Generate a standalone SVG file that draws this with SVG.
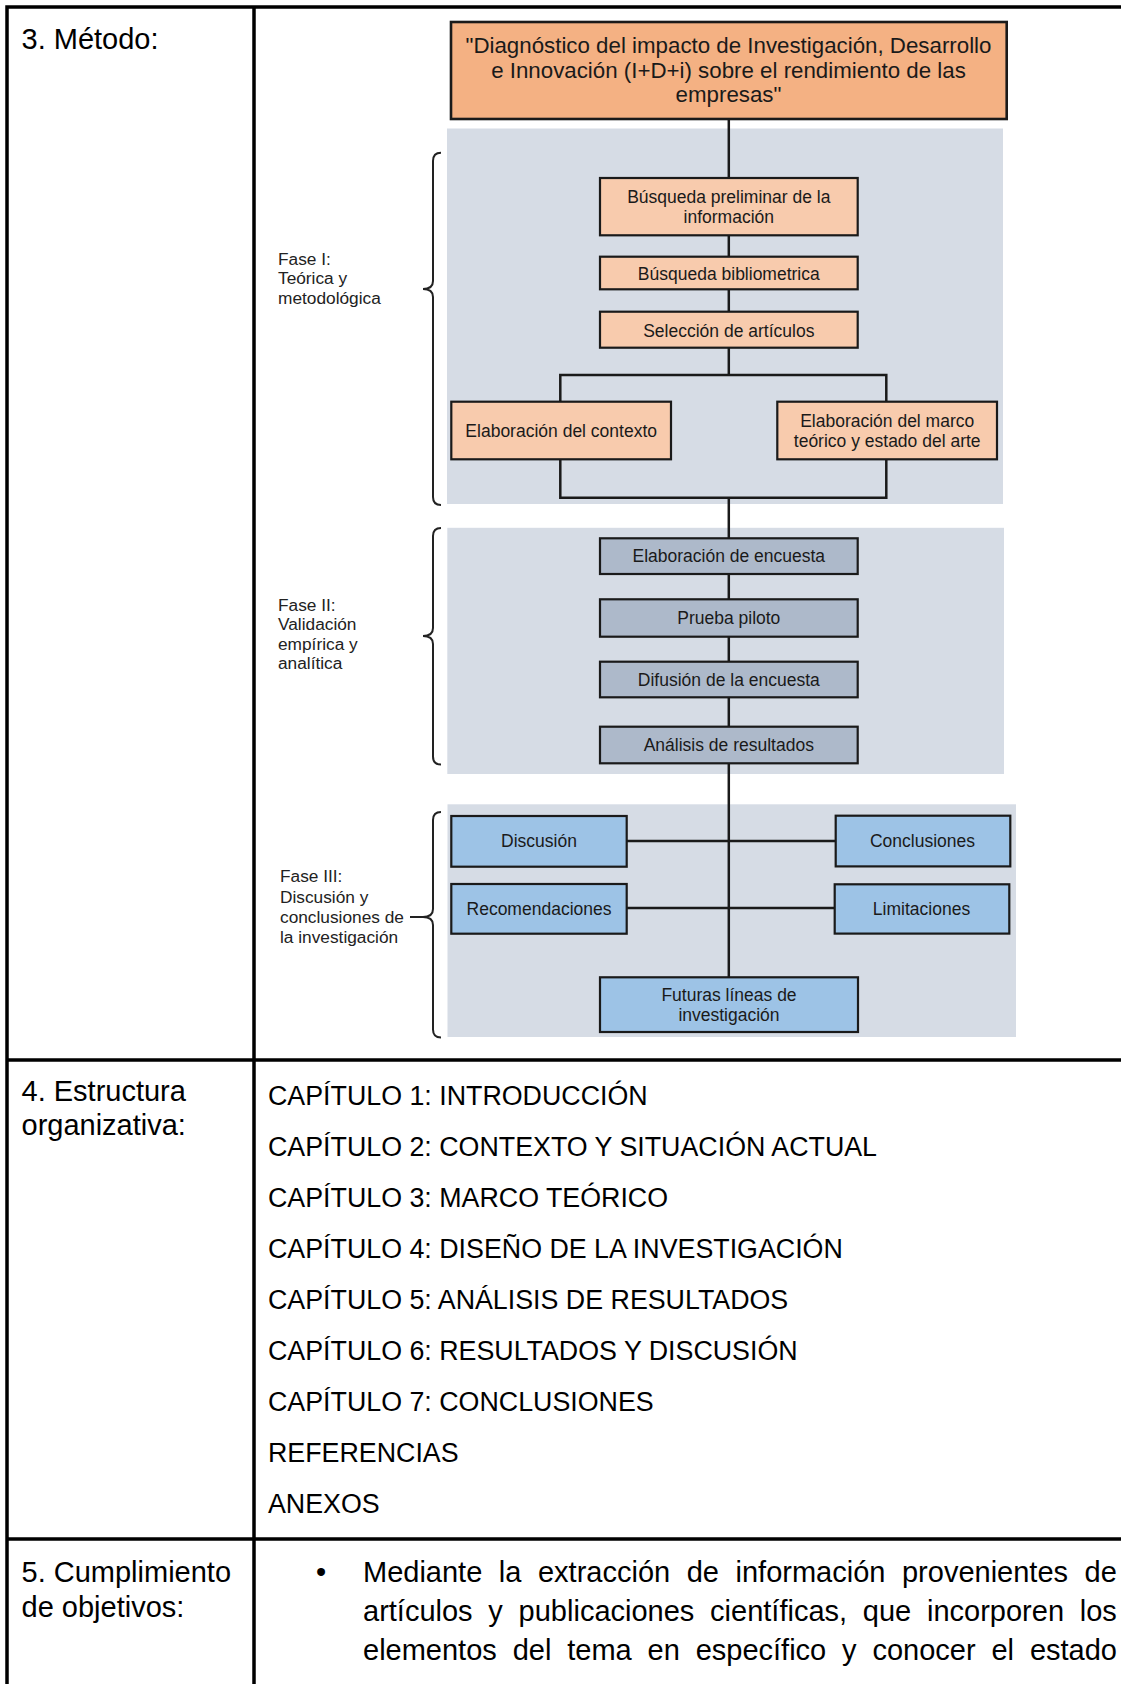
<svg xmlns="http://www.w3.org/2000/svg" width="1121" height="1684" viewBox="0 0 1121 1684">
  <style>
    text { font-family: "Liberation Sans", Arial, Helvetica, sans-serif; }
    .grid { stroke: #000; stroke-width: 3.5; fill: none; stroke-linecap: square; }
    .lbl { font-size: 29px; fill: #000; }
    .body { font-size: 26.8px; fill: #000; }
    .para { font-size: 29px; fill: #000; }
    .phase { fill: #D6DCE5; }
    .box { stroke: #1a1a1a; stroke-width: 2.2; }
    .title { fill: #F4B183; stroke: #1a1a1a; stroke-width: 2.6; }
    .p1 { fill: #F8CBAD; }
    .p2 { fill: #ADB9CA; }
    .p3 { fill: #9DC3E6; }
    .bt { font-size: 17.5px; fill: #1a1a1a; text-anchor: middle; }
    .tt { font-size: 22.3px; fill: #1a1a1a; text-anchor: middle; }
    .conn { stroke: #1a1a1a; stroke-width: 2.5; fill: none; }
    .brace { stroke: #222; stroke-width: 2; fill: none; }
    .fase { font-size: 17.3px; fill: #222; }
  </style>

  <rect width="1121" height="1684" fill="#fff"/>

  <!-- table rules -->
  <g id="table">
    <path class="grid" d="M7 7 H1121 M7 7 V1684 M254 7 V1684 M7 1060 H1121 M7 1539 H1121"/>
  </g>

  <!-- row labels -->
  <g id="row-labels">
    <text class="lbl" x="21.5" y="49">3. Método:</text>
    <text class="lbl" x="21.5" y="1101">4. Estructura</text>
    <text class="lbl" x="21.5" y="1135">organizativa:</text>
    <text class="lbl" x="21.5" y="1582">5. Cumplimiento</text>
    <text class="lbl" x="21.5" y="1617">de objetivos:</text>
  </g>

  <!-- phase backgrounds -->
  <g id="phase-bg">
    <rect class="phase" x="447" y="128.5" width="556" height="375.5"/>
    <rect class="phase" x="447.3" y="527.8" width="556.7" height="246.2"/>
    <rect class="phase" x="447.5" y="804.3" width="568.5" height="232.7"/>
  </g>

  <!-- connectors -->
  <g id="connectors">
    <path class="conn" d="M728.8 119 V178"/>
    <path class="conn" d="M728.8 235.3 V256.7"/>
    <path class="conn" d="M728.8 289.3 V311.7"/>
    <path class="conn" d="M728.8 347.7 V375"/>
    <path class="conn" d="M560.3 401.7 V375 H886.3 V401.7"/>
    <path class="conn" d="M560.3 459.3 V497.7 H886.3 V459.3"/>
    <path class="conn" d="M728.8 497.7 V538.3"/>
    <path class="conn" d="M728.8 574 V599.3"/>
    <path class="conn" d="M728.8 636.7 V661.7"/>
    <path class="conn" d="M728.8 697.3 V726.7"/>
    <path class="conn" d="M728.8 763.3 V977.3"/>
    <path class="conn" d="M626.7 841 H835.7"/>
    <path class="conn" d="M626.7 908 H834.7"/>
  </g>

  <!-- title -->
  <g id="node-title">
    <rect class="title" x="451" y="22" width="555.7" height="97"/>
    <text class="tt" x="728.5" y="53">"Diagnóstico del impacto de Investigación, Desarrollo</text>
    <text class="tt" x="728.5" y="77.5">e Innovación (I+D+i) sobre el rendimiento de las</text>
    <text class="tt" x="728.5" y="101.5">empresas"</text>
  </g>

  <!-- phase I -->
  <g id="node-busqueda-preliminar">
    <rect class="box p1" x="600" y="178" width="257.7" height="57.3"/>
    <text class="bt" x="728.8" y="203">Búsqueda preliminar de la</text>
    <text class="bt" x="728.8" y="223">información</text>
  </g>
  <g id="node-busqueda-bibliometrica">
    <rect class="box p1" x="600" y="256.7" width="257.7" height="32.6"/>
    <text class="bt" x="728.8" y="279.5">Búsqueda bibliometrica</text>
  </g>
  <g id="node-seleccion">
    <rect class="box p1" x="600" y="311.7" width="257.7" height="36"/>
    <text class="bt" x="728.8" y="336.5">Selección de artículos</text>
  </g>
  <g id="node-contexto">
    <rect class="box p1" x="451.3" y="401.7" width="219.7" height="57.6"/>
    <text class="bt" x="561.2" y="436.7">Elaboración del contexto</text>
  </g>
  <g id="node-marco">
    <rect class="box p1" x="777.3" y="401.7" width="219.7" height="57.6"/>
    <text class="bt" x="887.2" y="427">Elaboración del marco</text>
    <text class="bt" x="887.2" y="447">teórico y estado del arte</text>
  </g>

  <!-- phase II -->
  <g id="node-encuesta">
    <rect class="box p2" x="600" y="538.3" width="257.7" height="35.7"/>
    <text class="bt" x="728.8" y="562">Elaboración de encuesta</text>
  </g>
  <g id="node-piloto">
    <rect class="box p2" x="600" y="599.3" width="257.7" height="37.4"/>
    <text class="bt" x="728.8" y="624">Prueba piloto</text>
  </g>
  <g id="node-difusion">
    <rect class="box p2" x="600" y="661.7" width="257.7" height="35.6"/>
    <text class="bt" x="728.8" y="685.5">Difusión de la encuesta</text>
  </g>
  <g id="node-analisis">
    <rect class="box p2" x="600" y="726.7" width="257.7" height="36.6"/>
    <text class="bt" x="728.8" y="751">Análisis de resultados</text>
  </g>

  <!-- phase III -->
  <g id="node-discusion">
    <rect class="box p3" x="451.3" y="816" width="175.4" height="50.7"/>
    <text class="bt" x="539" y="847">Discusión</text>
  </g>
  <g id="node-recomendaciones">
    <rect class="box p3" x="451.3" y="884" width="175.4" height="49.7"/>
    <text class="bt" x="539" y="914.7">Recomendaciones</text>
  </g>
  <g id="node-conclusiones">
    <rect class="box p3" x="835.7" y="815.7" width="174.6" height="50.7"/>
    <text class="bt" x="922.5" y="847">Conclusiones</text>
  </g>
  <g id="node-limitaciones">
    <rect class="box p3" x="834.7" y="884.3" width="174.6" height="49.3"/>
    <text class="bt" x="921.5" y="915">Limitaciones</text>
  </g>
  <g id="node-futuras">
    <rect class="box p3" x="600" y="977.3" width="258" height="54.7"/>
    <text class="bt" x="729" y="1001">Futuras líneas de</text>
    <text class="bt" x="729" y="1021">investigación</text>
  </g>

  <!-- phase braces and labels -->
  <g id="fase-1">
    <path class="brace" d="M441 152.7 Q433 152.7 433 161 V281 Q433 289 423 289 Q433 289 433 297 V497 Q433 505 441 505"/>
    <text class="fase" x="278" y="264.5">Fase I:</text>
    <text class="fase" x="278" y="284">Teórica y</text>
    <text class="fase" x="278" y="303.5">metodológica</text>
  </g>
  <g id="fase-2">
    <path class="brace" d="M441 528 Q433 528 433 536 V628 Q433 636 423 636 Q433 636 433 644 V756.5 Q433 764.5 441 764.5"/>
    <text class="fase" x="278" y="610.5">Fase II:</text>
    <text class="fase" x="278" y="630">Validación</text>
    <text class="fase" x="278" y="649.5">empírica y</text>
    <text class="fase" x="278" y="669">analítica</text>
  </g>
  <g id="fase-3">
    <path class="brace" d="M441 812 Q433 812 433 820 V909 Q433 917 423 917 Q433 917 433 925 V1029.5 Q433 1037.5 441 1037.5 M410 917 H423"/>
    <text class="fase" x="280" y="882">Fase III:</text>
    <text class="fase" x="280" y="902.5">Discusión y</text>
    <text class="fase" x="280" y="922.5">conclusiones de</text>
    <text class="fase" x="280" y="942.5">la investigación</text>
  </g>

  <!-- chapter list -->
  <g id="chapters">
    <text class="body" x="268" y="1105">CAPÍTULO 1: INTRODUCCIÓN</text>
    <text class="body" x="268" y="1156">CAPÍTULO 2: CONTEXTO Y SITUACIÓN ACTUAL</text>
    <text class="body" x="268" y="1207">CAPÍTULO 3: MARCO TEÓRICO</text>
    <text class="body" x="268" y="1258">CAPÍTULO 4: DISEÑO DE LA INVESTIGACIÓN</text>
    <text class="body" x="268" y="1309">CAPÍTULO 5: ANÁLISIS DE RESULTADOS</text>
    <text class="body" x="268" y="1360">CAPÍTULO 6: RESULTADOS Y DISCUSIÓN</text>
    <text class="body" x="268" y="1411">CAPÍTULO 7: CONCLUSIONES</text>
    <text class="body" x="268" y="1462">REFERENCIAS</text>
    <text class="body" x="268" y="1513">ANEXOS</text>
  </g>

  <!-- objectives paragraph (justified lines) -->
  <g id="objectives">
    <text class="para" x="321" y="1582" text-anchor="middle">•</text>
    <text class="para" x="363" y="1582" word-spacing="8.5">Mediante la extracción de información provenientes de</text>
    <text class="para" x="363" y="1621" word-spacing="7.7">artículos y publicaciones científicas, que incorporen los</text>
    <text class="para" x="363" y="1660" word-spacing="7.8">elementos del tema en específico y conocer el estado</text>
  </g>
</svg>
